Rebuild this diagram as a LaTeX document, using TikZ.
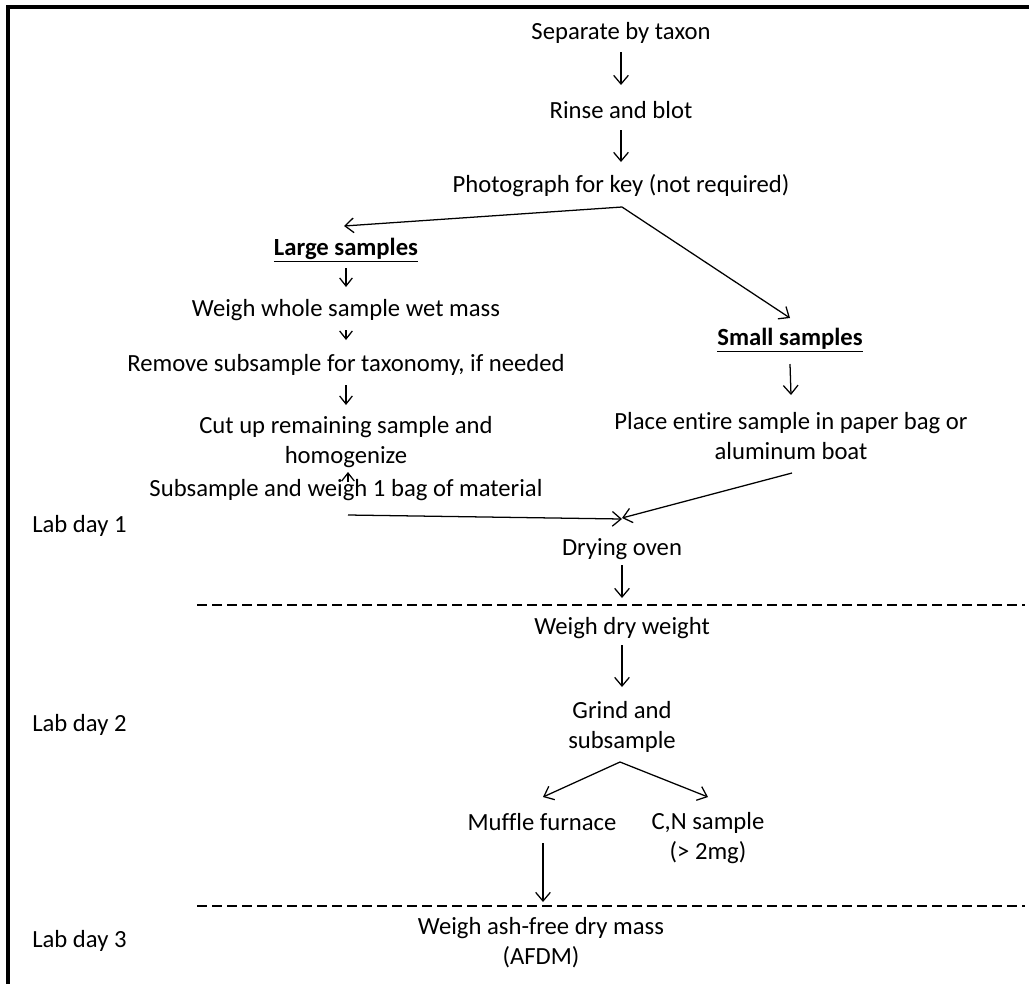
\documentclass[tikz,border=0pt]{standalone}
\usepackage{fontspec}
\setmainfont{Carlito}[Ligatures=NoCommon]
\usetikzlibrary{arrows.meta,calc}
\begin{document}
\begin{tikzpicture}[x=0.75pt,y=-0.75pt,
  every node/.style={font=\fontsize{18.5}{22.5}\selectfont, inner sep=0pt, align=center},
  lab/.style={anchor=west},
  arr/.style={line width=0.95pt, -{Straight Barb[length=6.5pt,width=11pt,line width=0.95pt]}},
  sarr/.style={line width=0.95pt, -{Straight Barb[length=6pt,width=9.5pt,line width=0.95pt]}},
  dayline/.style={line width=0.95pt, dash pattern=on 7.5pt off 3.75pt},
  frame/.style={line width=2.3pt}]
\useasboundingbox (0,0) rectangle (1029,983);
% frame
\coordinate (fb) at (8,990);
\coordinate (fc) at (8,7);
\coordinate (fr) at (1035,7);
\draw[frame] (fb) -- (fc) -- (fr);
% nodes
\node (sep) at (621,33) {Separate by taxon};
\node (rinse) at (621,110) {Rinse and blot};
\node (photo) at (621,186) {Photograph for key (not required)};
\node (large) at (346,250) {\textbf{\underline{Large samples}}};
\node (wet) at (346,310) {Weigh whole sample wet mass};
\node (remove) at (346,365) {Remove subsample for taxonomy, if needed};
\node (cut) at (346,442) {Cut up remaining sample and\\homogenize};
\node (subs) at (346,490) {Subsample and weigh 1 bag of material};
\node (small) at (790,340) {\textbf{\underline{Small samples}}};
\node (place) at (791,436) {Place entire sample in paper bag or\\aluminum boat};
\node (drying) at (622,549) {Drying oven};
\node (dry) at (622,628) {Weigh dry weight};
\node (grind) at (622,727) {Grind and\\subsample};
\node (muffle) at (542,822) {Muffle furnace};
\node (cn) at (708,838) {C,N sample\\(> 2mg)};
\node (afdm) at (541,943) {Weigh ash-free dry mass\\(AFDM)};
\node[lab] (lab1) at (32,526) {Lab day 1};
\node[lab] (lab2) at (32,725) {Lab day 2};
\node[lab] (lab3) at (32,941) {Lab day 3};
% day separators
\coordinate (d1a) at (197,605);
\coordinate (d1b) at (1025,605);
\coordinate (d2a) at (197,906);
\coordinate (d2b) at (1025,906);
\draw[dayline] (d1a) -- (d1b);
\draw[dayline] (d2a) -- (d2b);
% connectors
\draw[arr] ($(sep)+(0,19)$) -- ($(rinse)+(0,-25)$);
\draw[arr] ($(rinse)+(0,20)$) -- ($(photo)+(0,-24)$);
\draw[arr] ($(photo)+(1,21)$) -- ($(large)+(-2,-24)$);
\draw[arr] ($(photo)+(1,21)$) -- ($(small)+(0,-22)$);
\draw[sarr] ($(large)+(0,18)$) -- ($(wet)+(0,-23)$);
\draw[sarr] ($(wet)+(0,20)$) -- ($(remove)+(0,-25)$);
\draw[sarr] ($(remove)+(0,20)$) -- ($(cut)+(0,-37)$);
\draw[sarr] ($(subs)+(2,-8)$) -- ($(cut)+(2,30)$);
\draw[arr] ($(subs)+(2,25)$) -- ($(drying)+(0,-30)$);
\draw[arr] ($(small)+(0,24)$) -- ($(place)+(0,-41)$);
\draw[arr] ($(place)+(1,37)$) -- ($(drying)+(0,-31)$);
\draw[arr] ($(drying)+(0,16)$) -- ($(dry)+(0,-30)$);
\draw[arr] ($(dry)+(0,17)$) -- ($(grind)+(0,-40)$);
\draw[arr] ($(grind)+(-2,35)$) -- ($(muffle)+(1,-25)$);
\draw[arr] ($(grind)+(-2,35)$) -- ($(cn)+(0,-41)$);
\draw[arr] ($(muffle)+(1,21)$) -- ($(afdm)+(2,-41)$);
\end{tikzpicture}
\end{document}
